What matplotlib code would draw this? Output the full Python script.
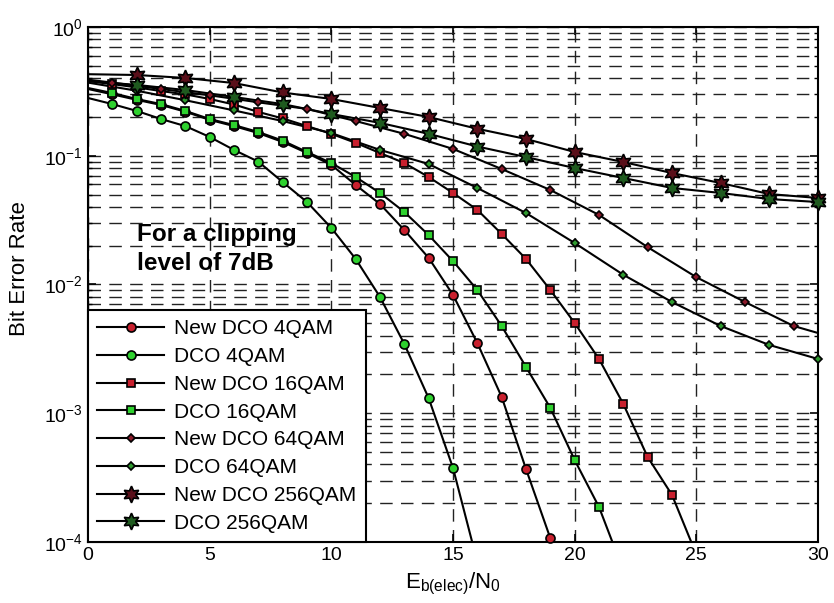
import numpy as np
import matplotlib.pyplot as plt
from matplotlib.lines import Line2D
from matplotlib.ticker import LogLocator, NullFormatter, FixedLocator

plt.rcParams['font.family'] = ['Liberation Sans', 'DejaVu Sans']
plt.rcParams['mathtext.default'] = 'regular'

# ---- data ----
x_new_4qam = list(range(0, 21))
ber_new_4qam = [0.33, 0.30, 0.272, 0.248, 0.22, 0.19, 0.17, 0.15, 0.128, 0.105,
                0.085, 0.0593, 0.0422, 0.0265, 0.0161, 0.0083, 0.00351, 0.00134,
                0.000369, 0.000107, 0.000025]

x_dco_4qam = list(range(0, 17))
ber_dco_4qam = [0.281, 0.252, 0.223, 0.193, 0.170, 0.140, 0.111, 0.090, 0.0625,
                0.0437, 0.0275, 0.0158, 0.0080, 0.00345, 0.00131, 0.000376, 0.00007]

x_new_16qam = list(range(0, 26))
ber_new_16qam = [0.38, 0.36, 0.34, 0.318, 0.30, 0.276, 0.25, 0.219, 0.195, 0.170,
                 0.148, 0.126, 0.105, 0.0878, 0.0684, 0.0514, 0.038, 0.0247, 0.0158,
                 0.00906, 0.00502, 0.00264, 0.00118, 0.000457, 0.000232, 0.00008]

x_dco_16qam = list(range(0, 23))
ber_dco_16qam = [0.336, 0.307, 0.276, 0.252, 0.223, 0.193, 0.173, 0.153, 0.131,
                 0.107, 0.0878, 0.0684, 0.0514, 0.0366, 0.0242, 0.0152, 0.00906,
                 0.00476, 0.00229, 0.0011, 0.000433, 0.000187, 0.00006]

x_new_64qam = [0, 1, 3, 5, 7, 9, 11, 13, 15, 17, 19, 21, 23, 25, 27, 29, 30]
ber_new_64qam = [0.39, 0.37, 0.33, 0.295, 0.26, 0.231, 0.186, 0.148, 0.113, 0.0789,
                 0.0542, 0.0347, 0.0195, 0.0114, 0.00731, 0.00476, 0.0042]

x_dco_64qam = list(range(0, 31, 2))
ber_dco_64qam = [0.37, 0.32, 0.27, 0.225, 0.186, 0.150, 0.111, 0.0863, 0.0562,
                 0.0359, 0.0210, 0.0119, 0.00731, 0.00476, 0.00339, 0.00264]

x_new_256qam = list(range(0, 31, 2))
ber_new_256qam = [0.43, 0.424, 0.402, 0.367, 0.31, 0.276, 0.235, 0.200, 0.162,
                  0.135, 0.107, 0.0894, 0.0734, 0.0614, 0.0504, 0.047]

x_dco_256qam = list(range(0, 31, 2))
ber_dco_256qam = [0.38, 0.355, 0.324, 0.286, 0.252, 0.211, 0.180, 0.148, 0.118,
                  0.0977, 0.0803, 0.0672, 0.0562, 0.0514, 0.0461, 0.0437]

labels = ['New DCO 4QAM', 'DCO 4QAM', 'New DCO 16QAM', 'DCO 16QAM',
          'New DCO 64QAM', 'DCO 64QAM', 'New DCO 256QAM', 'DCO 256QAM']

red = '#c8202e'
green = '#2ed12e'
hexagram = (6, 1, 0)

series = [
    (x_new_4qam, ber_new_4qam, 'o', red, 6.5),
    (x_dco_4qam, ber_dco_4qam, 'o', green, 6.5),
    (x_new_16qam, ber_new_16qam, 's', red, 6.3),
    (x_dco_16qam, ber_dco_16qam, 's', green, 6.3),
    (x_new_64qam, ber_new_64qam, 'D', '#8a1a2a', 4.3),
    (x_dco_64qam, ber_dco_64qam, 'D', '#2f9a2f', 4.3),
    (x_new_256qam, ber_new_256qam, hexagram, '#5a0f1a', 12),
    (x_dco_256qam, ber_dco_256qam, hexagram, '#1f5a1f', 12),
]

fig = plt.figure(figsize=(8.34, 6.03), dpi=100)
ax = fig.add_axes([0.1055, 0.1012, 0.8753, 0.854])

handles = []
for (xs, ys, mk, fc, ms), lab in zip(series, labels):
    xs = np.array(xs)
    ys = np.array(ys)
    ax.plot(xs, ys, color='black', lw=1.5, zorder=3)
    # markers only where the curve has a symbol (not at x=0, not at extra end points)
    keep = (xs > 0) & (ys >= 1e-4 * 0.9)
    if mk == 'D' and fc == '#8a1a2a':
        keep &= (xs % 2 == 1)
    ax.plot(xs[keep], ys[keep], ls='none', marker=mk, ms=ms, mfc=fc, mec='black',
            mew=1.2, zorder=4, clip_on=False)
    handles.append(Line2D([], [], color='black', lw=1.5, marker=mk, ms=ms,
                          mfc=fc, mec='black', mew=1.2))

ax.set_yscale('log')
ax.set_xlim(0, 30)
ax.set_ylim(1e-4, 1)
ax.xaxis.set_major_locator(FixedLocator([0, 5, 10, 15, 20, 25, 30]))
ax.yaxis.set_major_locator(LogLocator(base=10, numticks=10))
ax.yaxis.set_minor_locator(LogLocator(base=10, subs=np.arange(2, 10), numticks=10))
ax.yaxis.set_minor_formatter(NullFormatter())

grid_style = dict(color='#222222', lw=1.0, ls=(0, (9, 6)))
ax.grid(True, which='major', axis='both', **grid_style)
ax.grid(True, which='minor', axis='y', **grid_style)
ax.set_axisbelow(True)

ax.tick_params(which='both', direction='in', top=True, right=True, labelsize=14)
ax.tick_params(which='major', length=6, width=1.2)
ax.tick_params(which='minor', length=3, width=1.0)
for sp in ax.spines.values():
    sp.set_linewidth(1.5)

ax.set_xlabel(r'E$_{b(elec)}$/N$_0$', fontsize=16, labelpad=5)
ax.set_ylabel('Bit Error Rate', fontsize=16)
ax.yaxis.set_label_coords(-0.08, 0.53)

ax.text(2.0, 0.0189, 'For a clipping\nlevel of 7dB', fontsize=17.5,
        fontweight='bold', linespacing=1.35, va='center', ha='left', zorder=5)

leg = ax.legend(handles, labels, loc='lower left', bbox_to_anchor=(0, 0),
                borderaxespad=0, fontsize=15, handlelength=3.2,
                fancybox=False, framealpha=1, edgecolor='black',
                labelspacing=0.42, borderpad=0.45, handletextpad=0.5)
leg.get_frame().set_linewidth(1.5)
leg.set_zorder(6)

fig.savefig('out.png', dpi=100)
